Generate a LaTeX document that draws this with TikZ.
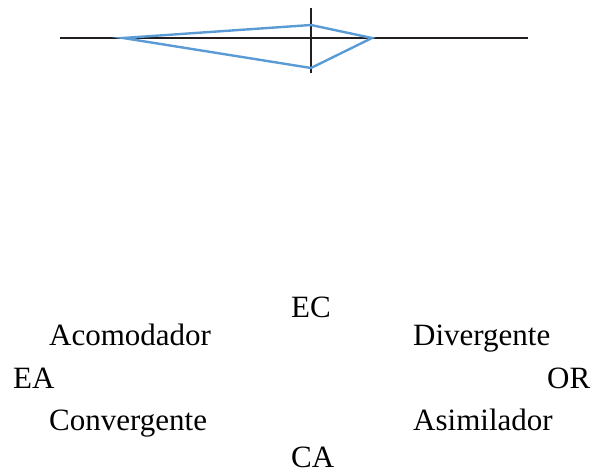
\documentclass[tikz,border=0pt]{standalone}
\usepackage{fontspec}
\setmainfont{Liberation Serif}
\definecolor{lineblue}{HTML}{5B9BD5}
\definecolor{axisblack}{HTML}{231F20}
\begin{document}
\begin{tikzpicture}[x=1pt,y=-1pt,
  axisline/.style={draw=axisblack,line width=2.2pt},
  kiteline/.style={draw=lineblue,line width=2.4pt,line join=miter},
  lbl/.style={inner sep=0pt,anchor=base west,font=\fontsize{31}{36}\selectfont}]
\useasboundingbox (0,0) rectangle (594,476);
% axes
\coordinate (hl) at (60,38);
\coordinate (hr) at (528,38);
\coordinate (vt) at (311,8);
\coordinate (vb) at (311,73);
\draw[axisline] (hl) -- (hr);
\draw[axisline] (vt) -- (vb);
% kite
\coordinate (pl) at (123,38);
\coordinate (pt) at (311,25);
\coordinate (pr) at (372,38);
\coordinate (pb) at (311,68);
\draw[kiteline] (pl) -- (pt) -- (pr) -- (pb) -- cycle;
% labels
\node[lbl] (ec) at (291,317) {EC};
\node[lbl] (acom) at (49,345) {Acomodador};
\node[lbl] (div) at (413,345) {Divergente};
\node[lbl] (ea) at (13,388) {EA};
\node[lbl] (or) at (547,388) {OR};
\node[lbl] (conv) at (49,430) {Convergente};
\node[lbl] (asim) at (413,430) {Asimilador};
\node[lbl] (ca) at (291,467) {CA};
\end{tikzpicture}
\end{document}
